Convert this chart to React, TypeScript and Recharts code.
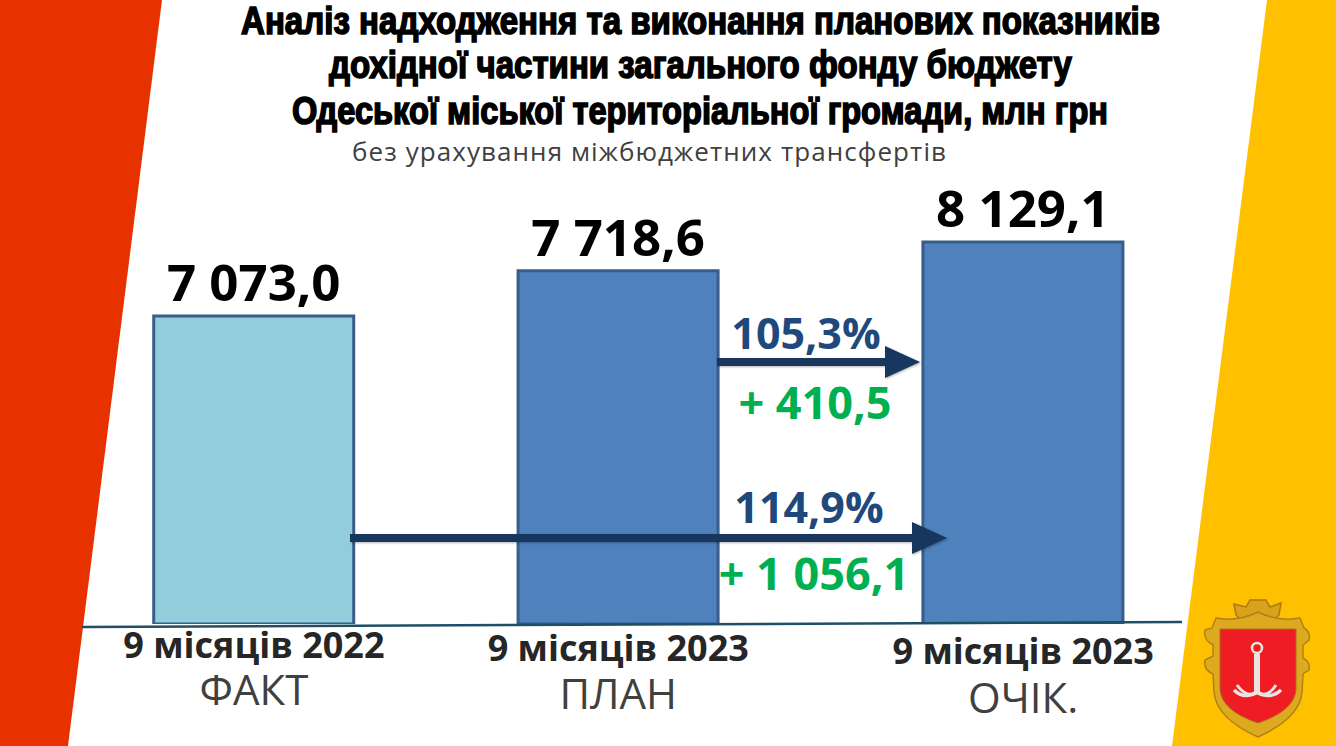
/**
 * Budget revenue comparison slide: three columns plus callout arrows.
 */
import { BarChart, Bar, XAxis, YAxis, Cell, LabelList } from "recharts";

const titleLines = [
  "Аналіз надходження та виконання планових показників",
  "дохідної частини загального фонду бюджету",
  "Одеської міської територіальної громади, млн грн",
];
const subtitle = "без урахування міжбюджетних трансфертів";

const periods = ["9 місяців 2022", "9 місяців 2023", "9 місяців 2023"];
const kinds = ["ФАКТ", "ПЛАН", "ОЧІК."];
const revenue = [7073.0, 7718.6, 8129.1];
// columns are not evenly spaced on the slide, so the x axis is numeric
const slots = [0, 9, 19];

const percentLabels = ["105,3%", "114,9%"];
const deltaLabels = ["+ 410,5", "+ 1 056,1"];

const chartData = revenue.map((value, i) => ({
  slot: slots[i],
  value,
  period: periods[i],
  kind: kinds[i],
}));

const barFills = ["#92CDDC", "#4F81BD", "#4F81BD"];
const FONT = "'Open Sans', sans-serif";

function formatValue(value: number): string {
  return value
    .toFixed(1)
    .replace(".", ",")
    .replace(/\B(?=(\d{3})(?!\d))/g, " ");
}

function PeriodTick({ x, y, index }: any) {
  // the labels drift down slightly from left to right
  const drop = index * 3;
  return (
    <g>
      <text
        x={x}
        y={y + 26 + drop}
        textAnchor="middle"
        fontFamily={FONT}
        fontWeight={700}
        fontSize={36}
        fill="#262626"
      >
        {periods[index]}
      </text>
      <text
        x={x}
        y={y + 73 + drop * 1.3}
        textAnchor="middle"
        fontFamily={FONT}
        fontSize={42}
        fill="#404040"
      >
        {kinds[index]}
      </text>
    </g>
  );
}

function Background() {
  return (
    <svg width={1336} height={746} style={{ position: "absolute", left: 0, top: 0 }}>
      <rect width={1336} height={746} fill="#FFFFFF" />
      <polygon points="0,0 162,0 68,746 0,746" fill="#E73200" />
      <polygon points="1267,0 1336,0 1336,746 1172,746" fill="#FFC000" />
    </svg>
  );
}

function Crest() {
  return (
    <g>
      {/* crown */}
      <path
        d="M1234 604 L1246 607 L1250 600 L1266 600 L1270 607 L1281 603 L1279 615 L1272 622 L1243 622 L1236 615 Z"
        fill="#D9A21B"
        stroke="#A87A10"
        strokeWidth={1.5}
      />
      {/* gold frame */}
      <path
        d="M1216 618 Q1238 622 1258 612 Q1278 622 1300 618 L1304 628 Q1311 632 1309 640 L1303 645 L1303 658 Q1311 662 1309 670 L1303 674 L1302 692 Q1300 718 1258 737 Q1216 718 1214 692 L1213 674 Q1203 670 1205 660 L1213 656 L1213 645 Q1203 640 1205 630 L1212 628 Z"
        fill="#DDA91F"
        stroke="#B08214"
        strokeWidth={1.5}
      />
      {/* shield */}
      <path
        d="M1220 629 H1296 V690 Q1294 711 1258 723 Q1222 711 1220 690 Z"
        fill="#F01C24"
        stroke="#A8731A"
        strokeWidth={1}
      />
      {/* anchor */}
      <circle cx={1257} cy={648} r={5} fill="none" stroke="#E8E4E0" strokeWidth={2.5} />
      <path d="M1257 654 V694" stroke="#E8E4E0" strokeWidth={6} fill="none" />
      <path
        d="M1234 690 Q1244 700 1257 692 Q1270 700 1281 690"
        stroke="#E8E4E0"
        strokeWidth={3.5}
        fill="none"
      />
      <path
        d="M1237 685 Q1246 698 1257 693 Q1268 698 1276 685"
        stroke="#E8E4E0"
        strokeWidth={3}
        fill="none"
      />
    </g>
  );
}

function Arrow({ x1, x2, y }: { x1: number; x2: number; y: number }) {
  return (
    <g style={{ filter: "drop-shadow(1px 1px 1px rgba(0,0,0,0.3))" }}>
      <line x1={x1} x2={x2 - 34} y1={y} y2={y} stroke="#17375E" strokeWidth={8} />
      <polygon points={`${x2 - 35},${y - 16} ${x2},${y} ${x2 - 35},${y + 16}`} fill="#17375E" />
    </g>
  );
}

function Overlay() {
  const titleFit = [
    { x: 241, y: 34, w: 919 },
    { x: 329, y: 78, w: 743 },
    { x: 292, y: 124, w: 816 },
  ];
  const callout = { fontFamily: FONT, fontWeight: 700 };
  return (
    <svg
      width={1336}
      height={746}
      style={{ position: "absolute", left: 0, top: 0, pointerEvents: "none" }}
    >
      {/* sloped baseline */}
      <line x1={82} y1={627} x2={1182} y2={622} stroke="#1F4E66" strokeWidth={2.5} />

      {titleLines.map((line, i) => (
        <text
          key={i}
          x={titleFit[i].x}
          y={titleFit[i].y}
          textLength={titleFit[i].w}
          lengthAdjust="spacingAndGlyphs"
          fontFamily="'Liberation Sans Narrow', 'Liberation Sans', sans-serif"
          fontWeight={700}
          fontSize={38}
          fill="#000"
          stroke="#000"
          strokeWidth={1.6}
        >
          {line}
        </text>
      ))}
      <text
        x={352}
        y={161}
        textLength={594}
        fontFamily={FONT}
        fontSize={26}
        fill="#404040"
      >
        {subtitle}
      </text>

      <Arrow x1={717} x2={920} y={362} />
      <Arrow x1={350} x2={947} y={538} />

      <text x={806} y={349} textAnchor="middle" fontSize={43} fill="#1F497D" {...callout}>
        {percentLabels[0]}
      </text>
      <text x={815} y={419} textAnchor="middle" fontSize={45} fill="#00B050" {...callout}>
        {deltaLabels[0]}
      </text>
      <text x={809} y={523} textAnchor="middle" fontSize={43} fill="#1F497D" {...callout}>
        {percentLabels[1]}
      </text>
      <text x={814} y={590} textAnchor="middle" fontSize={45} fill="#00B050" {...callout}>
        {deltaLabels[1]}
      </text>

      <Crest />
    </svg>
  );
}

export default function App() {
  return (
    <div
      style={{
        position: "absolute",
        left: 0,
        top: 0,
        width: 1336,
        height: 746,
        overflow: "hidden",
        background: "#fff",
      }}
    >
      <Background />
      <div style={{ position: "absolute", left: 0, top: 0 }}>
        <BarChart
          width={1336}
          height={746}
          data={chartData}
          margin={{ top: 0, right: 70, bottom: 0, left: 11 }}
        >
          <XAxis
            type="number"
            dataKey="slot"
            domain={[-6, 25]}
            ticks={slots}
            height={122}
            axisLine={false}
            tickLine={false}
            tick={<PeriodTick />}
            interval={0}
          />
          <YAxis hide domain={[2677, 11582]} allowDataOverflow />
          <Bar
            dataKey="value"
            barSize={200}
            stroke="#385D8A"
            strokeWidth={3}
            isAnimationActive={false}
          >
            {chartData.map((_, i) => (
              <Cell key={i} fill={barFills[i]} />
            ))}
            <LabelList
              dataKey="value"
              position="top"
              offset={15}
              formatter={formatValue}
              fontFamily={FONT}
              fontWeight={700}
              fontSize={51}
              fill="#000"
            />
          </Bar>
        </BarChart>
      </div>
      <Overlay />
    </div>
  );
}
